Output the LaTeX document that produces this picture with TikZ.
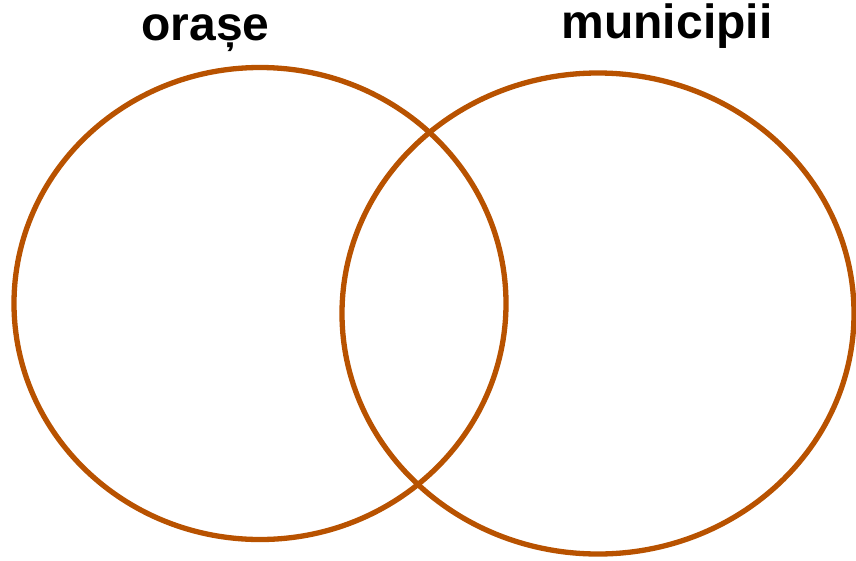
\documentclass[tikz,border=0pt]{standalone}
\usepackage{fontspec}
\setmainfont{Liberation Sans}
\definecolor{venn}{RGB}{184,82,0}
\begin{document}
\begin{tikzpicture}[x=1pt,y=-1pt,
  ring/.style={draw=venn,line width=5.3pt},
  title/.style={font=\fontsize{48}{52}\selectfont\bfseries,anchor=base,inner sep=0pt}]
\useasboundingbox (0,0) rectangle (856,560);
\draw[ring] (260,303.5) ellipse [x radius=246, y radius=236];
\draw[ring] (598,313.5) ellipse [x radius=256, y radius=240.5];
\node[title] (orase) at (205.5,40) {orașe};
\node[title] (mun) at (667,38.5) {municipii};
\end{tikzpicture}
\end{document}
